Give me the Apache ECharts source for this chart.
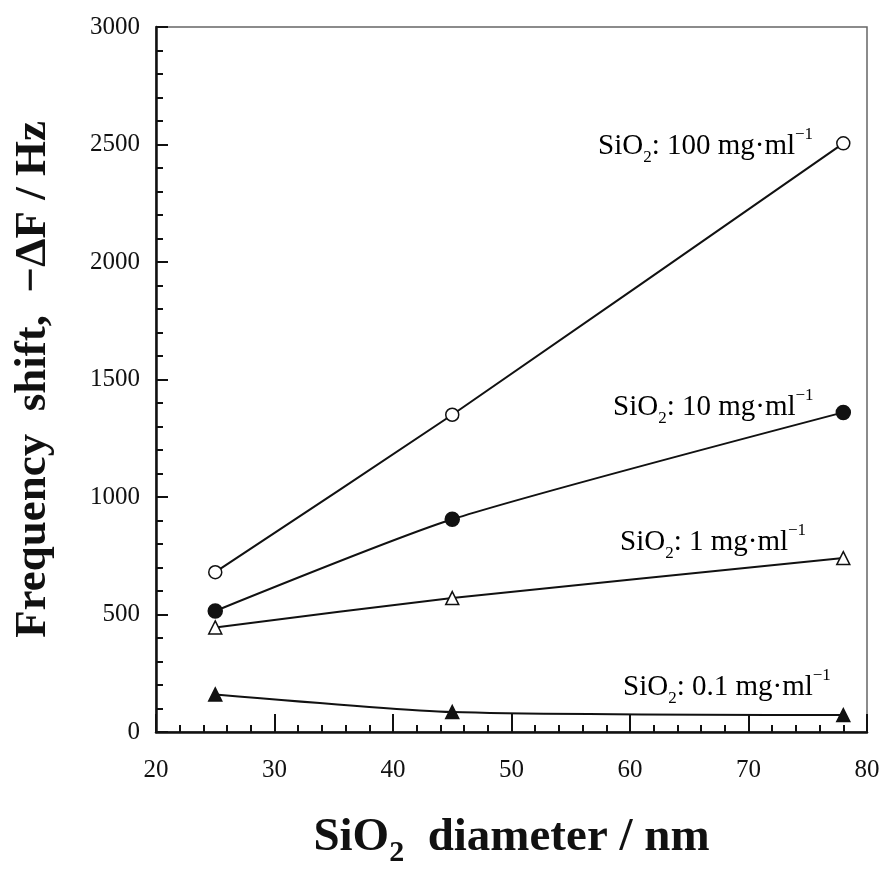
<!DOCTYPE html>
<html>
<head>
<meta charset="utf-8">
<script src="https://cdn.jsdelivr.net/npm/echarts@6/dist/echarts.min.js"></script>
<style>
html,body{margin:0;padding:0;background:#fff;}
#c{width:888px;height:873px;}
</style>
</head>
<body>
<div id="c"></div>
<script>
const diameters = [25, 45, 78];
const s100 = [680, 1350, 2505];
const s10 = [515, 905, 1360];
const s1 = [445, 570, 740];
const s01 = [160, 85, 72];
const seriesLabels = ['100', '10', '1', '0.1'];

const FONT = '"Liberation Serif", "Times New Roman", serif';
const chart = echarts.init(document.getElementById('c'));

function pairs(arr){ return diameters.map((d,i)=>[d, arr[i]]); }

const rich = {
  n: {fontSize: 29, fontFamily: FONT, color:'#111', lineHeight: 40, verticalAlign:'middle'},
  sub: {fontSize: 17, fontFamily: FONT, color:'#111', lineHeight: 12, verticalAlign:'bottom'},
  sup: {fontSize: 17, fontFamily: FONT, color:'#111', lineHeight: 30, verticalAlign:'top'}
};
function labelText(v){ return '{n|SiO}{sub|2}{n|: ' + v + ' mg·ml}{sup|−1}'; }

const labelPos = [
  {left: 598, top: 126},
  {left: 613, top: 387},
  {left: 620, top: 522},
  {left: 623, top: 667}
];

const lineStyle = {color:'#111', width: 2};
function mkSeries(name, arr, symbol, filled, size){
  return {
    name, type:'line', data: pairs(arr), smooth: 0.2,
    symbol, symbolSize: size,
    lineStyle,
    itemStyle: {color: filled ? '#111' : '#fff', borderColor:'#111', borderWidth: 1.5},
    z: 3
  };
}

chart.setOption({
  backgroundColor:'#fff',
  animation:false,
  grid:{left:156, right:21, top:27, bottom:136, show:true, borderColor:'#666', borderWidth:1.5},
  xAxis:{
    type:'value', min:20, max:80, interval:10,
    axisLine:{show:true, onZero:false, lineStyle:{color:'#111', width:2.5}},
    axisTick:{show:true, inside:true, length:18, lineStyle:{color:'#111', width:2}},
    minorTick:{show:true, splitNumber:5, length:7, lineStyle:{color:'#111', width:2}},
    splitLine:{show:false},
    axisLabel:{fontFamily:FONT, fontSize:25, color:'#111', margin:26},
    name:'{b|SiO}{bs|2}{b|  diameter / nm}',
    nameLocation:'middle', nameGap:76,
    nameTextStyle:{rich:{
      b:{fontFamily:FONT, fontWeight:'bold', fontSize:47, color:'#111', lineHeight:60, verticalAlign:'middle'},
      bs:{fontFamily:FONT, fontWeight:'bold', fontSize:30, color:'#111', lineHeight:24, verticalAlign:'bottom'}
    }}
  },
  yAxis:{
    type:'value', min:0, max:3000, interval:500,
    axisLine:{show:true, lineStyle:{color:'#111', width:2.5}},
    axisTick:{show:true, inside:true, length:12, lineStyle:{color:'#111', width:2}},
    minorTick:{show:true, splitNumber:5, length:7, lineStyle:{color:'#111', width:2}},
    splitLine:{show:false},
    axisLabel:{fontFamily:FONT, fontSize:25, color:'#111', margin:16, formatter: v => String(v)},
    name:'Frequency  shift,  −ΔF / Hz',
    nameLocation:'middle', nameGap:100,
    nameTextStyle:{fontFamily:FONT, fontWeight:'bold', fontSize:45, color:'#111'}
  },
  series:[
    mkSeries('100 mg/ml', s100, 'circle', false, 13),
    mkSeries('10 mg/ml', s10, 'circle', true, 14),
    mkSeries('1 mg/ml', s1, 'triangle', false, 13),
    mkSeries('0.1 mg/ml', s01, 'triangle', true, 13)
  ],
  graphic: seriesLabels.map((v,i)=>({
    type:'text', left: labelPos[i].left, top: labelPos[i].top, z: 10,
    style:{text: labelText(v), rich}
  }))
});
</script>
</body>
</html>
